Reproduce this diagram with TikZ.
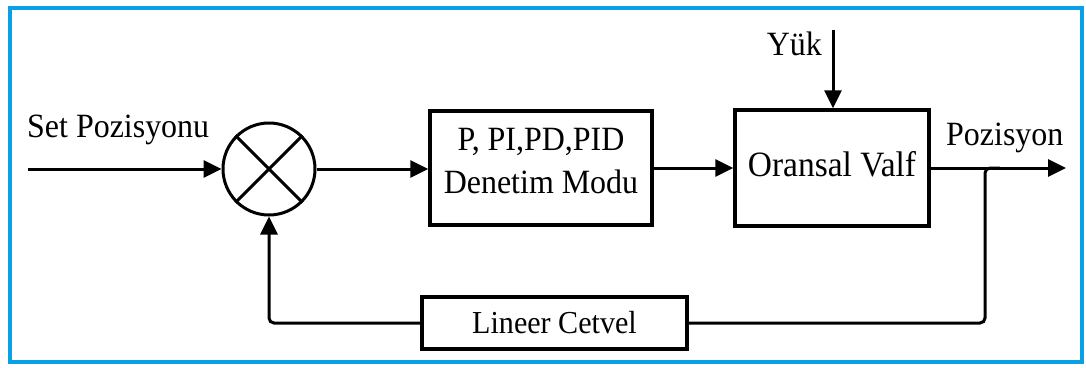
\documentclass[tikz,border=0pt]{standalone}
\usepackage{fontspec}
\setmainfont{Liberation Serif}[FakeStretch=0.94]
\usetikzlibrary{arrows.meta}
\definecolor{frameblue}{RGB}{10,160,228}
\tikzset{
  blockbox/.style={draw, line width=3.5pt, minimum width=#1, inner sep=0pt, align=center, font=\fontsize{34}{43}\selectfont},
  lbl/.style={inner sep=0pt, font=\fontsize{34}{43}\selectfont},
  wire/.style={line width=3pt},
  arr/.style={wire, -{Triangle[length=18pt,width=17pt]}},
}
\begin{document}
\begin{tikzpicture}[x=1pt,y=-1pt]
\useasboundingbox (0,0) rectangle (1086,367);
\draw[frameblue, line width=4pt] (10,8) rectangle (1082,362);
% summing junction
\node[draw, circle, line width=3pt, minimum size=92pt, inner sep=0pt] (sum) at (269,169) {};
\draw[line width=3pt] (sum.45) -- (sum.225) (sum.135) -- (sum.315);
% blocks
\node[blockbox=222pt, minimum height=114pt, text depth=14pt] (ctrl) at (541,168) {P, PI,PD,PID\\Denetim Modu};
\node[blockbox=194pt, minimum height=116pt, text depth=8pt, font=\fontsize{35.6}{43}\selectfont] (valve) at (832,168) {Oransal Valf};
\node[blockbox=265pt, minimum height=52pt, font=\fontsize{32}{43}\selectfont] (scale) at (554.5,323) {Lineer Cetvel};
% labels
\node[lbl, anchor=base west] (setlbl) at (27,137) {Set Pozisyonu};
\node[lbl, anchor=base east] (yuklbl) at (822,55) {Yük};
\node[lbl, anchor=base west] (poslbl) at (946,145) {Pozisyon};
% coordinates
\coordinate (in) at (28,169);
\coordinate (yuk) at (833,30);
\coordinate (out) at (1066,168);
\coordinate (branch) at (985,168);
% connectors
\draw[arr] (in) -- (sum.west);
\draw[arr] (sum.east) -- (sum.east -| ctrl.west);
\draw[arr] (ctrl.east) -- (ctrl.east -| valve.west);
\draw[arr] (yuk) -- (yuk |- valve.north);
\draw[arr] (valve.east) -- (out);
\draw[wire, rounded corners=5pt] ([xshift=15pt]branch) -- (branch) -- (branch |- scale.east) -- (scale.east);
\draw[arr, rounded corners=5pt] (scale.west) -| (sum.south);
\end{tikzpicture}
\end{document}
